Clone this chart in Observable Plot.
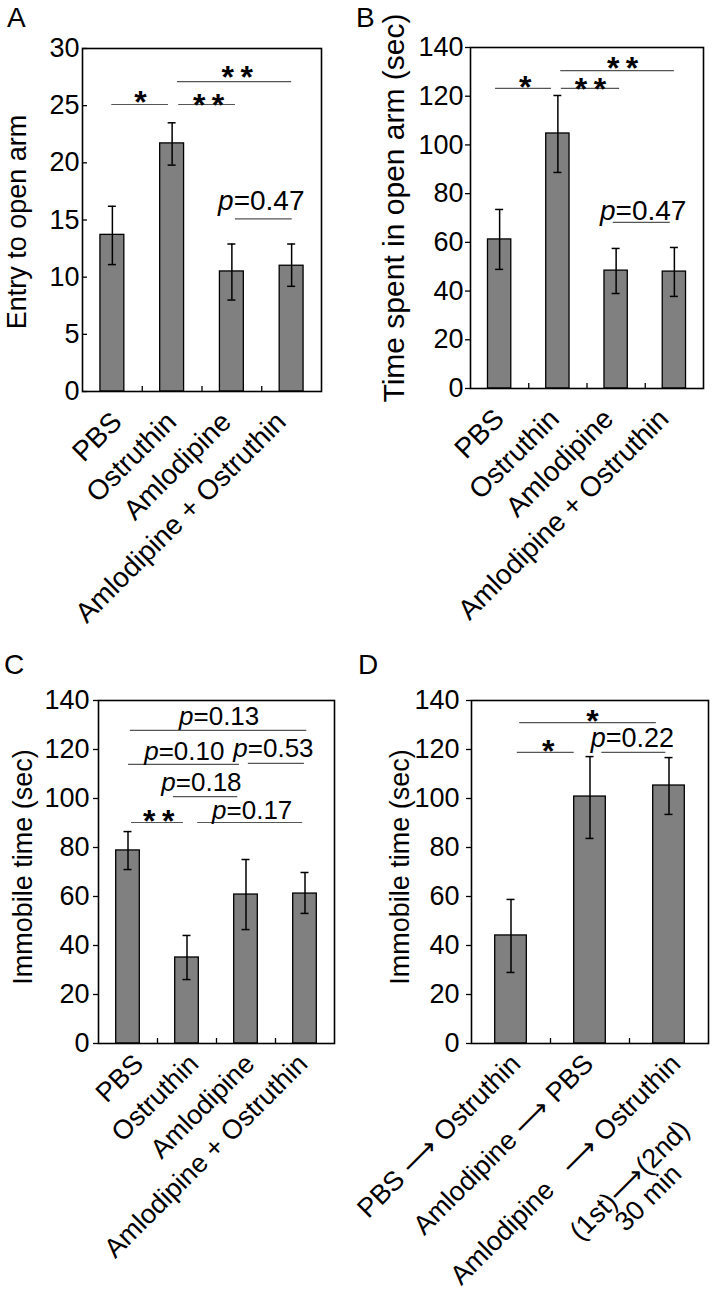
<!DOCTYPE html>
<html><head><meta charset="utf-8">
<script src="https://cdn.jsdelivr.net/npm/d3@7"></script>
<script src="https://cdn.jsdelivr.net/npm/@observablehq/plot@0.6"></script>
<style>
body{margin:0;background:#fff;}
#root{position:relative;width:714px;height:1297px;font-family:"Liberation Sans",Arial,sans-serif;color:#000;}
.panel{position:absolute;}
.letter{position:absolute;font-size:28px;line-height:1;}
</style></head><body><div id="root"></div>
<script>
// ---------- data ----------
const groupsAC = ["PBS", "Ostruthin", "Amlodipine", "Amlodipine + Ostruthin"];
const groupsD = ["PBS \u27F6 Ostruthin", "Amlodipine \u27F6 PBS", "Amlodipine\u00a0\u00a0 \u27F6 Ostruthin"];
const groupsDExtra = ["(1st)\u27F6(2nd)", "30 min"];

const entryMean = [13.7, 21.7, 10.5, 11.0];
const entryLo   = [11.1, 19.8, 8.0, 9.2];
const entryHi   = [16.2, 23.5, 12.9, 12.9];

const openMean = [61.2, 104.7, 48.4, 48.0];
const openLo   = [48.9, 88.7, 39.0, 37.8];
const openHi   = [73.5, 120.3, 57.5, 57.9];

const immCMean = [78.8, 35.1, 60.8, 61.2];
const immCLo   = [71.0, 26.1, 46.5, 53.1];
const immCHi   = [86.5, 44.1, 75.1, 69.8];

const immDMean = [44.1, 100.8, 105.3];
const immDLo   = [29.0, 83.7, 93.5];
const immDHi   = [58.8, 117.1, 116.7];

const ticksA = [0, 5, 10, 15, 20, 25, 30];
const ticksBCD = [0, 20, 40, 60, 80, 100, 120, 140];

// significance annotations (from/to in group units, y in data units)
const sigA = [
  {from: -0.01, to: 0.94, y: 25.1, label: "*", lx: 0.47, ly: 25.9},
  {from: 1.11, to: 2.06, y: 25.1, label: "**", lx: 1.61, ly: 25.7},
  {from: 1.09, to: 3.0, y: 27.1, label: "**", lx: 2.09, ly: 28.1},
  {from: 2.06, to: 3.01, y: 15.1, label: "p=0.47", lx: 2.03, ly: 15.9}
];
const sigB = [
  {from: -0.07, to: 0.89, y: 123.2, label: "*", lx: 0.44, ly: 126.8},
  {from: 1.06, to: 2.06, y: 123.2, label: "**", lx: 1.56, ly: 126.0},
  {from: 1.05, to: 3.0, y: 130.5, label: "**", lx: 2.11, ly: 134.6},
  {from: 1.95, to: 2.93, y: 68.2, label: "p=0.47", lx: 1.99, ly: 69.0}
];
const sigC = [
  {from: 0.04, to: 3.03, y: 127.8, label: "p=0.13", lx: 1.11, ly: 129.8},
  {from: 0.01, to: 1.89, y: 113.9, label: "p=0.10", lx: 0.52, ly: 115.8},
  {from: 2.04, to: 2.99, y: 114.3, label: "p=0.53", lx: 2.03, ly: 116.9},
  {from: 0.77, to: 1.86, y: 100.8, label: "p=0.18", lx: 0.81, ly: 102.9},
  {from: 0.06, to: 0.94, y: 90.2, label: "**", lx: 0.52, ly: 93.5},
  {from: 1.18, to: 2.96, y: 90.2, label: "p=0.17", lx: 1.67, ly: 91.7}
];
const sigD = [
  {from: 0.11, to: 1.84, y: 131.0, label: "*", lx: 1.03, ly: 134.3},
  {from: 0.08, to: 0.80, y: 118.8, label: "*", lx: 0.47, ly: 122.4},
  {from: 1.15, to: 1.96, y: 118.8, label: "p=0.22", lx: 1.2, ly: 121.0}
];

// ---------- drawing ----------
const FONT = '"Liberation Sans", Arial, sans-serif';
const root = document.getElementById("root");

function panel(o) {
  const n = o.groups.length;
  const idx = d3.range(n);
  const innerW = o.width - o.ml - o.mr;
  const innerH = o.height - o.mt - o.mb;
  const band = innerW / n;
  const halfBar = 0.2;
  const cap = 4 / band;
  const yMax = o.ticks[o.ticks.length - 1];
  const inner = yMax * 5 / innerH;
  const x0 = -0.5;
  const tl = 5 / band;
  const stars = o.sig.filter(d => !d.label.startsWith("p"));
  const ps = o.sig.filter(d => d.label.startsWith("p"));
  const marks = [
    Plot.rect(idx, {x1: i => i - halfBar, x2: i => i + halfBar, y1: 0, y2: i => o.mean[i], fill: "#808080", stroke: "black", strokeWidth: 1.3}),
    Plot.ruleX(idx, {x: i => i, y1: i => o.lo[i], y2: i => o.hi[i], stroke: "black", strokeWidth: 1.5}),
    Plot.ruleY(idx, {y: i => o.hi[i], x1: i => i - cap, x2: i => i + cap, stroke: "black", strokeWidth: 1.5}),
    Plot.ruleY(idx, {y: i => o.lo[i], x1: i => i - cap, x2: i => i + cap, stroke: "black", strokeWidth: 1.5}),
    Plot.ruleX(d3.range(0.5, n - 1, 1), {y1: 0, y2: inner, stroke: "black", strokeWidth: 1.3}),
    // y axis ticks and labels
    Plot.ruleY(o.ticks, {y: d => d, x1: o.inTicks ? x0 : x0 - tl, x2: o.inTicks ? x0 + tl : x0, stroke: "black", strokeWidth: 1.3}),
    Plot.text(o.ticks, {x: () => x0, y: d => d, text: d => String(d), textAnchor: "end", lineAnchor: "middle", dx: -o.tickGap, fontSize: 27}),
    Plot.frame({stroke: "black", strokeWidth: 1.6}),
    Plot.ruleY(o.sig, {y: "y", x1: "from", x2: "to", stroke: "#555", strokeWidth: 1.2}),
    Plot.text(stars, {x: "lx", y: "ly", text: d => d.label.split("").join("\u2009"), fontSize: 32, fontWeight: "bold", lineAnchor: "bottom", dy: 18, fill: "black"}),
    Plot.text(ps, {x: "lx", y: "ly", text: d => "p", fontStyle: "italic", textAnchor: "end", lineAnchor: "bottom", fontSize: o.pSize}),
    Plot.text(ps, {x: "lx", y: "ly", text: d => d.label.slice(1), textAnchor: "start", lineAnchor: "bottom", fontSize: o.pSize}),
    Plot.text([o.title], {frameAnchor: "left", text: d => d, rotate: -90, textAnchor: "middle", lineAnchor: "middle", fontSize: o.titleSize, dx: o.titleDx, dy: o.titleDy})
  ];
  idx.forEach(i => marks.push(Plot.text([i], {x: d => d, y: () => 0, text: d => o.groups[d], rotate: -45, textAnchor: "end", lineAnchor: "bottom", fontSize: o.labSize, dx: o.labDx[i], dy: o.labDy})));
  if (o.extra) {
    o.extra.forEach(e => {
      marks.push(Plot.text([e.text], {x: () => e.group, y: () => 0, text: d => d, rotate: -45, textAnchor: "end", lineAnchor: "bottom", fontSize: o.labSize, dx: o.labDx[e.group] + e.dx, dy: o.labDy + e.dy}));
    });
  }
  const svg = Plot.plot({
    width: o.width, height: o.height,
    marginLeft: o.ml, marginRight: o.mr, marginTop: o.mt, marginBottom: o.mb,
    style: {fontFamily: FONT, fontSize: "27px", color: "black", background: "transparent", overflow: "visible"},
    x: {domain: [-0.5, n - 0.5], axis: null},
    y: {domain: [0, yMax], axis: null},
    marks
  });
  const div = document.createElement("div");
  div.className = "panel";
  div.style.left = o.left + "px";
  div.style.top = o.top + "px";
  div.appendChild(svg);
  root.appendChild(div);
  const L = document.createElement("div");
  L.className = "letter";
  L.style.left = o.letterX + "px";
  L.style.top = o.letterY + "px";
  L.textContent = o.letter;
  root.appendChild(L);
}

panel({letter: "A", letterX: 7, letterY: 4, left: 0, top: 0, width: 357, height: 640, ml: 82, mr: 36, mt: 48, mb: 249,
  groups: groupsAC, mean: entryMean, lo: entryLo, hi: entryHi, ticks: ticksA, sig: sigA, inTicks: true, tickGap: 3,
  title: "Entry to open arm", titleSize: 27, titleDx: -65, titleDy: 2,
  labSize: 28, labDx: [11, 6, 1, -4], labDy: 32, pSize: 28});
panel({letter: "B", letterX: 356, letterY: 4, left: 357, top: 0, width: 357, height: 640, ml: 113, mr: 11, mt: 47, mb: 252,
  groups: groupsAC, mean: openMean, lo: openLo, hi: openHi, ticks: ticksBCD, sig: sigB, inTicks: false, tickGap: 7,
  title: "Time spent in open arm (sec)", titleSize: 30, titleDx: -76, titleDy: -10,
  labSize: 28, labDx: [6, 3, -1, -4], labDy: 32, pSize: 28});
panel({letter: "C", letterX: 4, letterY: 651, left: 0, top: 640, width: 357, height: 657, ml: 98, mr: 23, mt: 60, mb: 254,
  groups: groupsAC, mean: immCMean, lo: immCLo, hi: immCHi, ticks: ticksBCD, sig: sigC, inTicks: false, tickGap: 9,
  title: "Immobile time (sec)", titleSize: 27, titleDx: -75, titleDy: -5,
  labSize: 27, labDx: [17, 13, 10, 4], labDy: 22, pSize: 26});
panel({letter: "D", letterX: 358, letterY: 651, left: 357, top: 640, width: 357, height: 657, ml: 114, mr: 6, mt: 60, mb: 254,
  groups: groupsD, mean: immDMean, lo: immDLo, hi: immDHi, ticks: ticksBCD, sig: sigD, inTicks: false, tickGap: 12,
  title: "Immobile time (sec)", titleSize: 27, titleDx: -71, titleDy: -5,
  labSize: 27, labDx: [11, 5, 13], labDy: 22, pSize: 27,
  extra: [{group: 2, text: groupsDExtra[0], dx: 9, dy: 66}, {group: 2, text: groupsDExtra[1], dx: 1, dy: 110}]});
</script>
</body></html>
